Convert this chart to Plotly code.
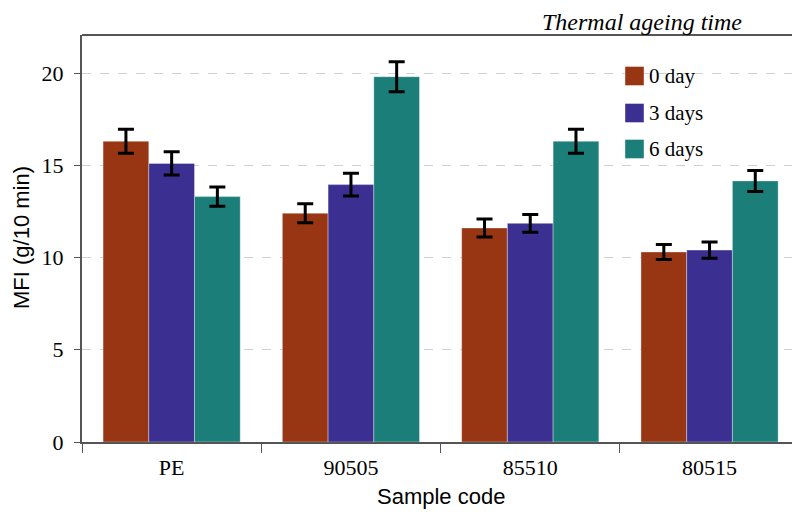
import plotly.graph_objects as go

categories = ["PE", "90505", "85510", "80515"]
series_names = ["0 day", "3 days", "6 days"]
day0 = [16.3, 12.4, 11.6, 10.3]
day3 = [15.1, 13.95, 11.85, 10.4]
day6 = [13.3, 19.8, 16.3, 14.15]
err0 = [0.65, 0.51, 0.49, 0.41]
err3 = [0.63, 0.62, 0.48, 0.44]
err6 = [0.52, 0.81, 0.65, 0.57]
colors = ["#983513", "#3B2F91", "#1B7E79"]
y_ticks = [0, 5, 10, 15, 20]

W, H = 792, 512
L, T, B, R = 82, 35, 70, 0
PW, PH = W - L - R, H - T - B


def px(x):
    return (x - L) / PW


def py(y):
    return (H - B - y) / PH


fig = go.Figure()
for name, vals, errs, col in zip(series_names, [day0, day3, day6], [err0, err3, err6], colors):
    fig.add_trace(go.Bar(
        x=categories, y=vals, name=name, showlegend=False,
        marker=dict(color=col, line=dict(color="rgba(255,255,255,0.35)", width=1)),
        error_y=dict(type="data", array=errs, visible=True, color="black", thickness=3, width=8),
    ))

serif = "Liberation Serif, Times New Roman, serif"
sans = "Liberation Sans, Arial, sans-serif"

shapes = [
    # legend background (hides gridlines)
    dict(type="rect", xref="paper", yref="paper", x0=px(615), x1=px(725), y0=py(172), y1=py(52),
         fillcolor="white", line=dict(width=0), layer="below"),
    # top border
    dict(type="line", xref="paper", yref="paper", x0=0, x1=1, y0=1, y1=1,
         line=dict(color="#555555", width=2)),
]
annotations = []
leg_y = [76, 113, 149]
for name, col, yc in zip(series_names, colors, leg_y):
    shapes.append(dict(type="rect", xref="paper", yref="paper", x0=px(625), x1=px(644),
                       y0=py(yc + 9.5), y1=py(yc - 9.5), fillcolor=col,
                       line=dict(color="rgba(255,255,255,0.4)", width=1)))
    annotations.append(dict(text=name, xref="paper", yref="paper", x=px(647), y=py(yc),
                            xanchor="left", yanchor="middle", showarrow=False,
                            font=dict(family=serif, size=21, color="black")))

annotations += [
    dict(text="<i>Thermal ageing time</i>", xref="paper", yref="paper", x=px(642), y=py(22),
         xanchor="center", yanchor="middle", showarrow=False,
         font=dict(family=serif, size=24, color="black")),
    dict(text="MFI (g/10 min)", xref="paper", yref="paper", x=px(22), y=py(238),
         xanchor="center", yanchor="middle", showarrow=False, textangle=-90,
         font=dict(family=sans, size=22, color="black")),
    dict(text="Sample code", xref="paper", yref="paper", x=px(441), y=py(496),
         xanchor="center", yanchor="middle", showarrow=False,
         font=dict(family=sans, size=22, color="black")),
]

fig.update_layout(
    width=W, height=H,
    margin=dict(l=L, r=R, t=T, b=B),
    paper_bgcolor="white", plot_bgcolor="white",
    barmode="group", bargap=0.235, bargroupgap=0,
    shapes=shapes, annotations=annotations,
    xaxis=dict(
        type="category", range=[-0.5, -0.5 + PW / 179.3],
        showline=True, linecolor="#555555", linewidth=2,
        ticks="outside", tickson="boundaries", ticklen=9, tickcolor="#555555", tickwidth=1,
        tickfont=dict(family=serif, size=22, color="black"), ticklabelstandoff=5,
        showgrid=False, zeroline=False,
    ),
    yaxis=dict(
        range=[0, PH / 18.45], tickvals=y_ticks,
        showline=True, linecolor="#555555", linewidth=2,
        ticks="outside", ticklen=6, tickcolor="#555555", tickwidth=1,
        tickfont=dict(family=serif, size=22, color="black"), ticklabelstandoff=6,
        showgrid=True, gridcolor="#d0d0d0", griddash="dash", gridwidth=1,
        zeroline=False,
    ),
)

fig.write_html("out.html")
